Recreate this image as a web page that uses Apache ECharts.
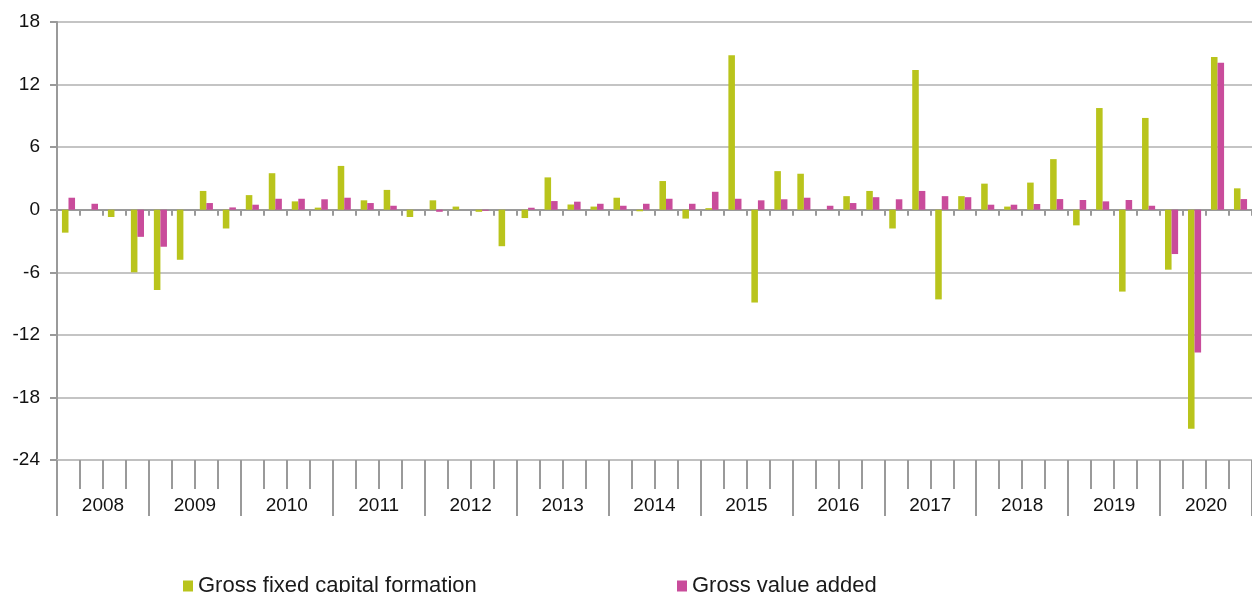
<!DOCTYPE html>
<html>
<head>
<meta charset="utf-8">
<script src="https://cdn.jsdelivr.net/npm/echarts@6/dist/echarts.min.js"></script>
<style>html,body{margin:0;padding:0;background:#fff}#c{width:1252px;height:592px}</style>
</head>
<body>
<div id="c"></div>
<script>
const years = ['2008','2009','2010','2011','2012','2013','2014','2015','2016','2017','2018','2019','2020'];
const quarterNames = ['Q1','Q2','Q3','Q4'];
const gfcf = [
  -2.2, 0, -0.7, -6.0,
  -7.7, -4.8, 1.8, -1.8,
  1.4, 3.5, 0.8, 0.2,
  4.2, 0.9, 1.9, -0.7,
  0.9, 0.3, -0.2, -3.5,
  -0.8, 3.1, 0.5, 0.3,
  1.15, -0.15, 2.75, -0.85,
  0.15, 14.8, -8.9, 3.7,
  3.45, 0, 1.3, 1.8,
  -1.8, 13.4, -8.6, 1.3,
  2.5, 0.3, 2.6, 4.85,
  -1.5, 9.75, -7.85, 8.8,
  -5.75, -21.0, 14.65, 2.05
];
const gva = [
  1.15, 0.57, 0, -2.6,
  -3.55, 0, 0.64, 0.22,
  0.48, 1.05, 1.05, 1.0,
  1.15, 0.64, 0.38, 0,
  -0.2, 0, -0.1, 0,
  0.19, 0.83, 0.77, 0.57,
  0.38, 0.57, 1.05, 0.57,
  1.72, 1.05, 0.9, 1.0,
  1.15, 0.38, 0.64, 1.2,
  1.0, 1.8, 1.3, 1.2,
  0.48, 0.48, 0.55, 1.02,
  0.93, 0.8, 0.93, 0.38,
  -4.25, -13.7, 14.1, 1.02
];
const yTicks = [-24, -18, -12, -6, 0, 6, 12, 18];

const quarters = [];
years.forEach(y => quarterNames.forEach(q => quarters.push(y + ' ' + q)));

const FONT = "'Liberation Sans', Arial, sans-serif";
const chart = echarts.init(document.getElementById('c'), null, {renderer: 'canvas'});
chart.setOption({
  animation: false,
  backgroundColor: '#ffffff',
  textStyle: {fontFamily: FONT},
  grid: {left: 57, right: 0, top: 22, bottom: 132, containLabel: false},
  legend: [
    {data: ['Gross fixed capital formation'], left: 183, top: 575, padding: 0, icon: 'rect', itemWidth: 10, itemHeight: 11,
     textStyle: {fontFamily: FONT, fontSize: 22, color: '#1a1a1a'}},
    {data: ['Gross value added'], left: 677, top: 575, padding: 0, icon: 'rect', itemWidth: 10, itemHeight: 11,
     textStyle: {fontFamily: FONT, fontSize: 22, color: '#1a1a1a'}}
  ],
  xAxis: [
    {type: 'category', data: quarters, position: 'bottom', axisLine: {onZero: true, lineStyle: {color: '#9a9a9a', width: 2}},
     axisTick: {show: true, interval: 0, length: 6, lineStyle: {color: '#9a9a9a', width: 2}},
     axisLabel: {show: false}, splitLine: {show: false}},
    {type: 'category', data: quarters, position: 'bottom', axisLine: {onZero: false, lineStyle: {color: '#c0c0c0', width: 2}},
     axisTick: {show: true, interval: 0, length: 29, lineStyle: {color: '#9a9a9a', width: 2}},
     axisLabel: {show: false}, splitLine: {show: false}},
    {type: 'category', data: years, position: 'bottom', axisLine: {show: false, onZero: false},
     axisTick: {show: true, interval: 0, length: 56, lineStyle: {color: '#9a9a9a', width: 2}},
     axisLabel: {show: true, interval: 0, margin: 36, fontFamily: FONT, fontSize: 19, color: '#111'},
     splitLine: {show: false}}
  ],
  yAxis: {
    type: 'value', min: yTicks[0], max: yTicks[yTicks.length - 1], interval: 6,
    axisLine: {show: true, lineStyle: {color: '#9a9a9a', width: 2}},
    axisTick: {show: true, length: 7, lineStyle: {color: '#9a9a9a', width: 2}},
    axisLabel: {margin: 17, fontFamily: FONT, fontSize: 19, color: '#111'},
    splitLine: {show: true, lineStyle: {color: '#c4c4c4', width: 2}}
  },
  series: [
    {name: 'Gross fixed capital formation', type: 'bar', data: gfcf, xAxisIndex: 0, barGap: '0%', barCategoryGap: '43%',
     itemStyle: {color: '#b9c41c'}},
    {name: 'Gross value added', type: 'bar', data: gva, xAxisIndex: 0, barGap: '0%', barCategoryGap: '43%',
     itemStyle: {color: '#c94c9b'}}
  ]
});
</script>
</body>
</html>
